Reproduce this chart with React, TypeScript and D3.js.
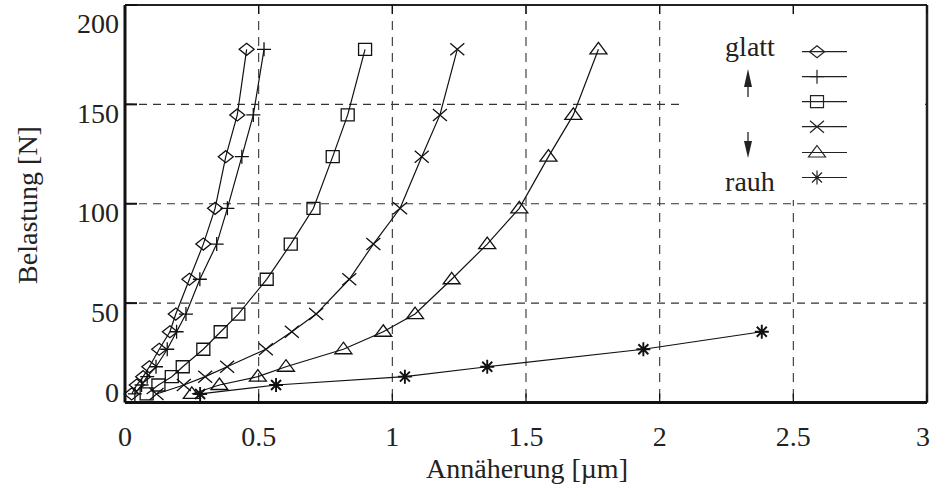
import React from "react";
import * as d3 from "d3";

const W = 932;
const H = 487;

const xTicks = [0, 0.5, 1, 1.5, 2, 2.5, 3];
const xTickLabels = ["0", "0.5", "1", "1.5", "2", "2.5", "3"];
const yTicks = [0, 50, 100, 150, 200];
const yTickLabels = ["0", "50", "100", "150", "200"];
const gridX = [0.5, 1, 1.5, 2, 2.5];
const gridY = [50, 100, 150];

// load levels [N]
const loads = [4.3, 8.8, 13, 18, 26.8, 35.6, 44.5, 62, 79.7, 97.7, 123.7, 144.7, 177.7];

// approach [µm] for each series
const diamondX = [0.025, 0.044, 0.068, 0.091, 0.128, 0.168, 0.19, 0.241, 0.293, 0.337, 0.377, 0.42, 0.455];
const plusX = [0.037, 0.062, 0.083, 0.116, 0.158, 0.193, 0.228, 0.28, 0.343, 0.383, 0.437, 0.48, 0.52];
const squareX = [0.081, 0.125, 0.175, 0.216, 0.293, 0.358, 0.424, 0.53, 0.62, 0.705, 0.777, 0.833, 0.898];
const crossX = [0.118, 0.22, 0.3, 0.382, 0.527, 0.624, 0.715, 0.839, 0.929, 1.029, 1.11, 1.178, 1.243];
const triangleX = [0.25, 0.353, 0.497, 0.602, 0.817, 0.966, 1.085, 1.222, 1.355, 1.475, 1.584, 1.677, 1.771];
const asteriskX = [0.281, 0.565, 1.047, 1.355, 1.939, 2.382];

const seriesNames = ["diamond", "plus", "square", "cross", "triangle", "asterisk"];
const seriesXs = [diamondX, plusX, squareX, crossX, triangleX, asteriskX];

const markerPaths: Record<string, string> = {
  diamond: "M0,-6L7.5,0L0,6L-7.5,0Z",
  plus: "M-7,0H7M0,-7V7",
  square: "M-6.5,-6H6.5V6H-6.5Z",
  cross: "M-7,-6L7,6M-7,6L7,-6",
  triangle: "M0,-7L8.5,4.5L-8.5,4.5Z",
  asterisk: "M-7,0H7M0,-7V7M-5,-5L5,5M-5,5L5,-5",
};

const FONT = "'Liberation Serif', 'Times New Roman', serif";
const txt = { fontFamily: FONT, fontSize: 28, fill: "#222" };

export default function App() {
  const left = 125, right = 927, top = 5, bottom = 402.5;
  const x = d3.scaleLinear().domain([0, 3]).range([left, right]);
  const y = d3.scaleLinear().domain([0, 200]).range([bottom, top]);

  const line = d3
    .line<[number, number]>()
    .x((d) => x(d[0]))
    .y((d) => y(d[1]));

  const series = seriesNames.map((name, i) => ({
    name,
    pts: seriesXs[i].map((v, j) => [v, loads[j]] as [number, number]),
  }));

  const legendX0 = 802, legendX1 = 847, legendMarkX = 817;
  const legendYs = [51.7, 76.7, 101.7, 126.7, 152.5, 177.5];

  return (
    <svg
      width={W}
      height={H}
      style={{ position: "absolute", left: 0, top: 0, background: "#fff" }}
    >
      <rect x={0} y={0} width={W} height={H} fill="#fff" />
      {/* grid */}
      {gridX.map((g) => (
        <line key={"gx" + g} x1={x(g)} x2={x(g)} y1={top} y2={bottom} stroke="#333" strokeWidth={1.1} strokeDasharray="9,7" />
      ))}
      {gridY.map((g) => (
        <line key={"gy" + g} x1={left} x2={right} y1={y(g)} y2={y(g)} stroke="#333" strokeWidth={1.1} strokeDasharray="8,6" />
      ))}
      {/* legend background */}
      <rect x={680} y={20} width={245} height={180} fill="#fff" />

      {/* series lines */}
      {series.map((s) => (
        <path key={"l" + s.name} d={line(s.pts) || ""} fill="none" stroke="#111" strokeWidth={1.2} />
      ))}
      {/* markers */}
      {series.map((s) =>
        s.pts.map((p, j) => (
          <path
            key={s.name + j}
            d={markerPaths[s.name]}
            transform={`translate(${x(p[0])},${y(p[1])})`}
            fill="none"
            stroke="#111"
            strokeWidth={s.name === "asterisk" ? 1.9 : 1.3}
          />
        ))
      )}

      {/* frame */}
      <line x1={left} x2={right} y1={top} y2={top} stroke="#222" strokeWidth={2} />
      <line x1={right} x2={right} y1={top} y2={bottom} stroke="#222" strokeWidth={2.5} />
      <line x1={left} x2={right} y1={bottom} y2={bottom} stroke="#111" strokeWidth={3} />
      <line x1={left} x2={left} y1={top} y2={bottom} stroke="#111" strokeWidth={3} />

      {/* ticks */}
      {xTicks.map((t) => (
        <g key={"xt" + t}>
          <line x1={x(t)} x2={x(t)} y1={bottom} y2={bottom - 9} stroke="#111" strokeWidth={1.3} />
          <line x1={x(t)} x2={x(t)} y1={top} y2={top + 9} stroke="#111" strokeWidth={1.3} />
        </g>
      ))}
      {yTicks.map((t) => (
        <g key={"yt" + t}>
          <line x1={left} x2={left + 12} y1={y(t)} y2={y(t)} stroke="#111" strokeWidth={2} />
        </g>
      ))}

      {/* tick labels */}
      {xTicks.map((t, i) => (
        <text
          key={"xl" + t}
          x={Math.min(x(t), W - 9)}
          y={436}
          textAnchor="middle"
          dominantBaseline="central"
          style={txt}
        >
          {xTickLabels[i]}
        </text>
      ))}
      {yTicks.map((t, i) => (
        <text
          key={"yl" + t}
          x={119}
          y={Math.max(Math.min(y(t) + 9, bottom - 10), top + 18)}
          textAnchor="end"
          dominantBaseline="central"
          style={txt}
        >
          {yTickLabels[i]}
        </text>
      ))}

      {/* axis titles */}
      <text x={527} y={468} textAnchor="middle" dominantBaseline="central" style={txt}>
        Annäherung [µm]
      </text>
      <text
        transform={`translate(27,205) rotate(-90)`}
        textAnchor="middle"
        dominantBaseline="central"
        style={txt}
      >
        Belastung [N]
      </text>

      {/* legend */}
      <text x={750} y={56} textAnchor="middle" style={txt}>glatt</text>
      <text x={750} y={191} textAnchor="middle" style={txt}>rauh</text>
      <line x1={748} x2={748} y1={82} y2={97} stroke="#222" strokeWidth={1.3} />
      <path d="M748,69L752,87L744,87Z" fill="#222" />
      <line x1={748} x2={748} y1={132} y2={146} stroke="#222" strokeWidth={1.3} />
      <path d="M748,158L752,141L744,141Z" fill="#222" />
      {seriesNames.map((name, i) => (
        <g key={"lg" + name}>
          <line x1={legendX0} x2={legendX1} y1={legendYs[i]} y2={legendYs[i]} stroke="#222" strokeWidth={1.2} />
          <path
            d={markerPaths[name]}
            transform={`translate(${legendMarkX},${legendYs[i]})`}
            fill="none"
            stroke="#222"
            strokeWidth={1.2}
          />
        </g>
      ))}
    </svg>
  );
}
